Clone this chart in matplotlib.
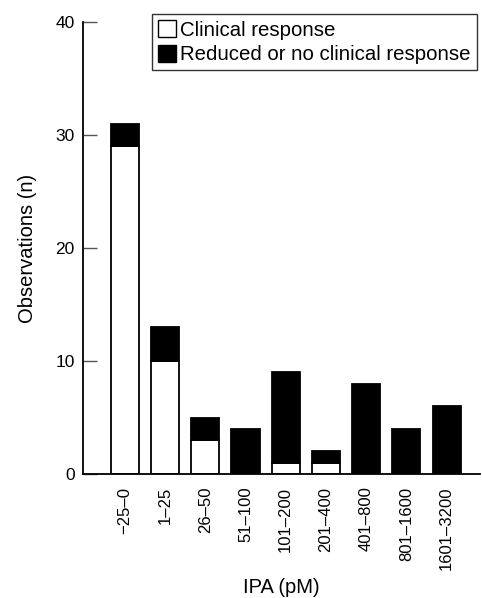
import matplotlib
matplotlib.use("Agg")
import matplotlib.pyplot as plt
from matplotlib.patches import Patch
import numpy as np

plt.rcParams['font.family'] = ['Liberation Sans', 'DejaVu Sans']

# IPA ranges (pM)
ranges = ['\u221225\u20130', '1\u201325', '26\u201350', '51\u2013100', '101\u2013200',
          '201\u2013400', '401\u2013800', '801\u20131600', '1601\u20133200']
clinical = [29, 10, 3, 0, 1, 1, 0, 0, 0]
reduced = [2, 3, 2, 4, 8, 1, 8, 4, 6]

fig = plt.figure(figsize=(4.82, 5.98), dpi=100)
ax = fig.add_axes([83/482, 1-474/598, 397/482, 452/598])

x = np.arange(len(ranges))
ax.bar(x, clinical, width=0.7, color='white', edgecolor='black', linewidth=1.3)
ax.bar(x, reduced, width=0.7, bottom=clinical, color='black', edgecolor='black', linewidth=1.3)

ax.set_xlim(-1.04, 8.83)
ax.set_ylim(0, 40)
ax.set_yticks([0, 10, 20, 30, 40])
ax.set_xticks(x)
ax.set_xticklabels(ranges, rotation=90, fontsize=12)
ax.tick_params(axis='y', direction='in', length=10, width=1.0, labelsize=12.5, pad=6, color='#555555')
ax.tick_params(axis='x', length=0, pad=9)
for s in ['top', 'right']:
    ax.spines[s].set_visible(False)
for s in ['left', 'bottom']:
    ax.spines[s].set_linewidth(1.3)

ax.set_ylabel('Observations (n)', fontsize=14.5, labelpad=13)
ax.set_xlabel('IPA (pM)', fontsize=14.5, labelpad=6)

handles = [Patch(facecolor='white', edgecolor='black', linewidth=1.0),
           Patch(facecolor='black', edgecolor='black', linewidth=1.0)]
leg = fig.legend(handles, ['Clinical response', 'Reduced or no clinical response'],
                 loc='upper right', bbox_to_anchor=(477/482, 1-14/598), fontsize=14.7,
                 handlelength=0.9, handleheight=0.9, handletextpad=0.2,
                 borderpad=0.3, borderaxespad=0, labelspacing=0.25,
                 fancybox=False, framealpha=1)
leg.get_frame().set_edgecolor('#333333')
leg.get_frame().set_linewidth(1.0)

fig.savefig('out.png', dpi=100)
